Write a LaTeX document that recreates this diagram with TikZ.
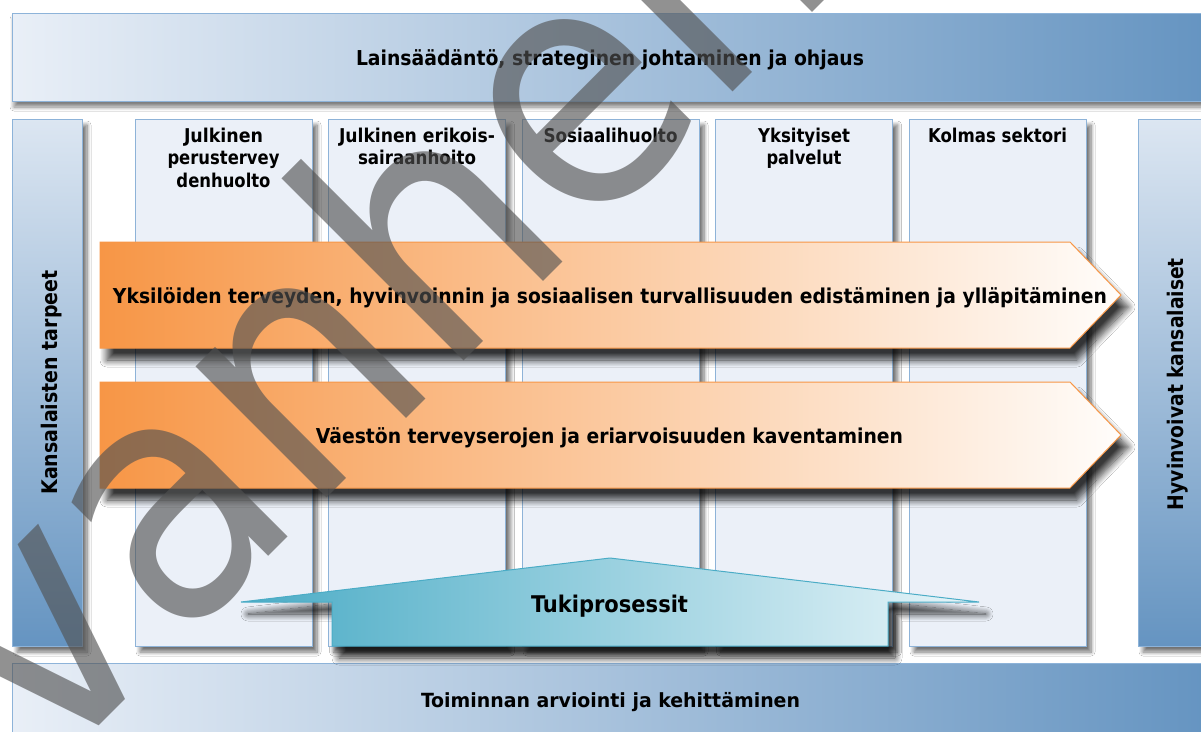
\documentclass[tikz,border=0pt]{standalone}
\usepackage{fontspec}
\usepackage{graphicx}
\setmainfont{DejaVu Sans Condensed}
\newfontfamily\stampfont{DejaVu Sans Condensed}
\usetikzlibrary{shadows.blur}

\definecolor{barlight}{HTML}{E9EFF7}
\definecolor{bardark}{HTML}{6594C1}
\definecolor{barline}{HTML}{8DB3D9}
\definecolor{colfill}{HTML}{EBF0F8}
\definecolor{colline}{HTML}{8EB3D8}
\definecolor{orangedark}{HTML}{F79646}
\definecolor{orangelight}{HTML}{FFFDFB}
\definecolor{tealdark}{HTML}{4BACC6}
\definecolor{teallight}{HTML}{E8F5F9}
\definecolor{stampgray}{RGB}{81,81,81}

% squeeze or widen a text box to a given width, keeping its height
\newcommand\fitto[2]{\resizebox{#1pt}{\height}{#2}}

\begin{document}
\begin{tikzpicture}[x=1pt,y=-1pt,
  softshadow/.style={blur shadow={shadow xshift=5pt,shadow yshift=-6pt,
      shadow blur radius=4pt,shadow blur steps=8,shadow opacity=55}},
  barshadow/.style={blur shadow={shadow xshift=2pt,shadow yshift=-6pt,
      shadow blur radius=4pt,shadow blur steps=8,shadow opacity=50}},
  darkshadow/.style={blur shadow={shadow xshift=7pt,shadow yshift=-12pt,
      shadow blur radius=7pt,shadow blur steps=12,shadow opacity=78}},
  hbar/.style={left color=barlight,right color=bardark,draw=barline,line width=1pt},
  vbar/.style={top color=barlight!90!bardark,bottom color=bardark,draw=barline,line width=1pt},
  colbox/.style={fill=colfill,draw=colline,line width=1pt},
  goalarrow/.style={left color=orangedark,right color=orangelight,draw=orangedark,line width=1pt},
  supparrow/.style={left color=tealdark,right color=teallight,draw=tealdark,line width=1pt},
  txt/.style={inner sep=0pt,anchor=base,font=\bfseries\fontsize{20.5}{24}\selectfont},
  headtxt/.style={inner sep=0pt,anchor=base,font=\bfseries\fontsize{19}{22.5}\selectfont},
  sidetxt/.style={inner sep=0pt,anchor=base,rotate=90,font=\bfseries\fontsize{21.5}{25}\selectfont},
]
\useasboundingbox (0,0) rectangle (1201,731);
\clip (0,0) rectangle (1201,731);
\fill[white] (0,0) rectangle (1201,731);

% framing bars
\path[hbar,barshadow] (12,13) rectangle (1210,101);
\path[vbar,softshadow] (12,119) rectangle (82,646);
\path[vbar,softshadow] (1138,119) rectangle (1210,646);

% service sector columns
\foreach \i in {0,...,4}
  \path[colbox,softshadow] ({135+193.5*\i},119) rectangle ++(177,527);

\path[hbar] (12,663) rectangle (1210,740);

% goal arrows
\path[goalarrow,darkshadow] (100,242) -- (1070,242) -- (1121,295) -- (1070,348) -- (100,348) -- cycle;
\path[goalarrow,darkshadow] (100,382) -- (1070,382) -- (1121,435) -- (1070,488) -- (100,488) -- cycle;

% support processes arrow
\path[supparrow,darkshadow] (241,602) -- (610,558) -- (979,602) -- (888,602)
  -- (888,646) -- (332,646) -- (332,602) -- cycle;

% labels
\node[txt] (law) at (610,65) {\fitto{508}{Lainsäädäntö, strateginen johtaminen ja ohjaus}};
\node[txt] (goal1) at (610,303) {\fitto{994}{Yksilöiden terveyden, hyvinvoinnin ja sosiaalisen turvallisuuden edistäminen ja ylläpitäminen}};
\node[txt] (goal2) at (609.5,443) {\fitto{587}{Väestön terveyserojen ja eriarvoisuuden kaventaminen}};
\node[txt,font=\bfseries\fontsize{23}{27}\selectfont] (supp) at (609.5,612) {\fitto{157}{Tukiprosessit}};
\node[txt,font=\bfseries\fontsize{19.5}{24}\selectfont] (eval) at (610.5,707) {\fitto{379}{Toiminnan arviointi ja kehittäminen}};
\node[sidetxt] (needs) at (57,382.5) {\fitto{224}{Kansalaisten tarpeet}};
\node[sidetxt] (wellbeing) at (1183,384) {\fitto{252}{Hyvinvoivat kansalaiset}};

% column headings
\node[headtxt] (h1a) at (223.5,142) {\fitto{79}{Julkinen}};
\node[headtxt] (h1b) at (223.5,164.5) {\fitto{112}{perustervey}};
\node[headtxt] (h1c) at (223.5,187) {\fitto{94}{denhuolto}};
\node[headtxt] (h2a) at (417,142) {\fitto{156}{Julkinen erikois-}};
\node[headtxt] (h2b) at (417,164.5) {\fitto{118}{sairaanhoito}};
\node[headtxt] (h3a) at (610.5,142) {\fitto{134}{Sosiaalihuolto}};
\node[headtxt] (h4a) at (804,142) {\fitto{92}{Yksityiset}};
\node[headtxt] (h4b) at (804,164.5) {\fitto{75}{palvelut}};
\node[headtxt] (h5a) at (997.5,142) {\fitto{139}{Kolmas sektori}};

% stamp across the sheet
\node[inner sep=0pt,anchor=base west,rotate=45,text=stampgray,opacity=0.63,
  font=\stampfont\fontsize{339}{400}\selectfont] (stamp) at (48,777) {vanhentunut};
\end{tikzpicture}
\end{document}
